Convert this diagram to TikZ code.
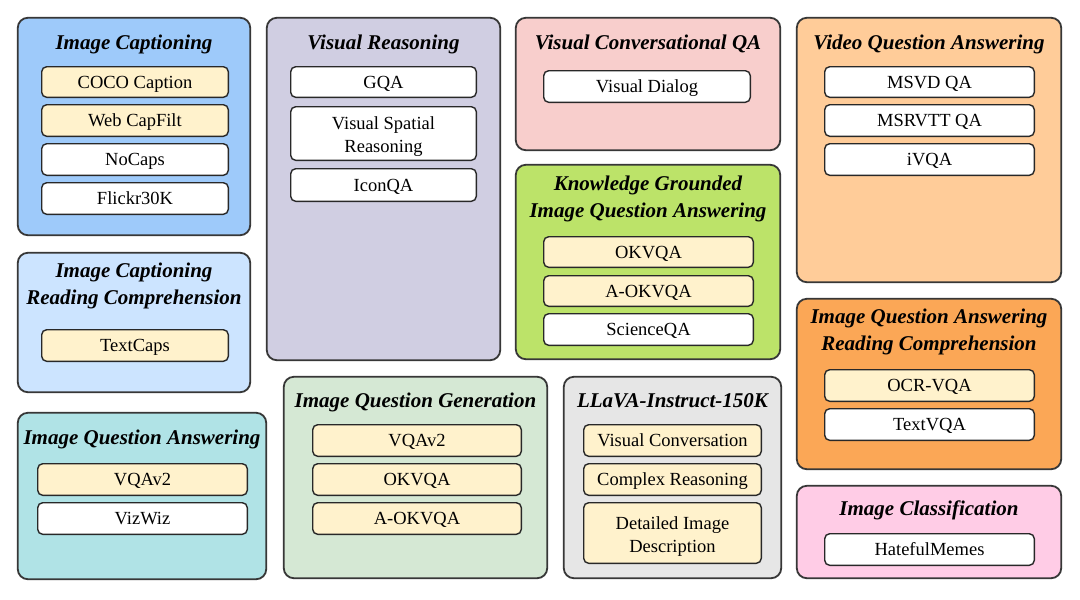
\documentclass[tikz,border=0pt]{standalone}
\usepackage{fontspec}
\setmainfont{Liberation Serif}
\definecolor{bord}{RGB}{55,55,55}
\definecolor{ibord}{RGB}{40,40,40}
\definecolor{cyel}{RGB}{255,242,204}
\definecolor{cIC}{RGB}{158,202,250}
\definecolor{cICRC}{RGB}{204,228,255}
\definecolor{cVR}{RGB}{208,206,226}
\definecolor{cVCQA}{RGB}{248,206,204}
\definecolor{cKG}{RGB}{188,227,105}
\definecolor{cVQA}{RGB}{255,204,153}
\definecolor{cIQARC}{RGB}{251,167,86}
\definecolor{cIQA}{RGB}{176,227,230}
\definecolor{cIQG}{RGB}{213,232,212}
\definecolor{cLL}{RGB}{230,230,230}
\definecolor{cICL}{RGB}{255,204,230}
\tikzset{
  outerbox/.style={draw=bord, line width=1.8pt, rounded corners=10pt, inner sep=0pt},
  ttl/.style={font=\fontsize{21}{27}\selectfont\bfseries\itshape, inner sep=0pt, align=center},
  itembase/.style={draw=ibord, line width=1.4pt, rounded corners=5pt, inner sep=0pt, font=\fontsize{18.5}{23}\selectfont},
  ybox/.style={itembase, fill=cyel, text height=16pt, text depth=3.8pt},
  wbox/.style={itembase, fill=white, text height=16pt, text depth=3.8pt},
  ytwo/.style={itembase, fill=cyel, align=center},
  wtwo/.style={itembase, fill=white, align=center}
}
\newcommand\outbox[6]{\node[outerbox, fill=#6, minimum width={#4-#2-1.6}, minimum height={#5-#3-1.6}] (#1) at ({(#2+#4)/2},{(#3+#5)/2}) {};}
\newcommand\itembox[7]{\node[#6, minimum width={#4-#2-1.4}, minimum height={#5-#3-1.4}] (#1) at ({(#2+#4)/2},{(#3+#5)/2}) {#7};}
\newcommand\tallstrut{\rule{0pt}{19pt}}
\begin{document}
\begin{tikzpicture}[x=1pt,y=-1pt]
\useasboundingbox[fill=white] (0,0) rectangle (1080,600);
% outer boxes
\outbox{IC}{17}{17}{251}{236}{cIC}
\outbox{VR}{266}{17}{501}{361}{cVR}
\outbox{VCQA}{515}{17}{781}{151}{cVCQA}
\outbox{VQA}{796}{17}{1062}{283}{cVQA}
\outbox{ICRC}{17}{252}{251}{393}{cICRC}
\outbox{KG}{515}{164}{781}{360}{cKG}
\outbox{IQARC}{796}{298}{1062}{470}{cIQARC}
\outbox{IQA}{17}{412}{267}{580}{cIQA}
\outbox{IQG}{283}{376}{548}{579}{cIQG}
\outbox{LL}{563}{376}{782}{579}{cLL}
\outbox{ICL}{796}{485}{1062}{579}{cICL}
% titles
\node[ttl, anchor=base] (tIC) at (134,49) {Image Captioning};
\node[ttl, anchor=base] (tVR) at (383.5,49) {Visual Reasoning};
\node[ttl, anchor=base] (tVCQA) at (648,49) {Visual Conversational QA};
\node[ttl, anchor=base] (tVQA) at (929,49) {Video Question Answering};
\node[ttl] (tICRC) at (134,286) {Image Captioning\\Reading Comprehension};
\node[ttl] (tKG) at (648,198.5) {Knowledge Grounded\\Image Question Answering};
\node[ttl] (tIQARC) at (929,332) {Image Question Answering\\Reading Comprehension};
\node[ttl, anchor=base] (tIQA) at (142,444) {Image Question Answering};
\node[ttl, anchor=base] (tIQG) at (415.5,407) {Image Question Generation};
\node[ttl, anchor=base] (tLL) at (672.5,407) {LLaVA-Instruct-150K};
\node[ttl, anchor=base] (tICL) at (929,515) {Image Classification};
% items
\itembox{coco}{41}{66}{229}{98}{ybox}{COCO Caption}
\itembox{web}{41}{104}{229}{137}{ybox}{Web CapFilt}
\itembox{nocaps}{41}{143}{229}{176}{wbox}{NoCaps}
\itembox{flickr}{41}{182}{229}{215}{wbox}{Flickr30K}
\itembox{gqa}{290}{66}{477}{98}{wbox}{GQA}
\itembox{vsr}{290}{106}{477}{161}{wtwo}{\tallstrut Visual Spatial\\Reasoning}
\itembox{iconqa}{290}{168}{477}{202}{wbox}{IconQA}
\itembox{vdial}{543}{70}{751}{103}{wbox}{Visual Dialog}
\itembox{msvd}{824}{66}{1035}{98}{wbox}{MSVD QA}
\itembox{msrvtt}{824}{104}{1035}{137}{wbox}{MSRVTT QA}
\itembox{ivqa}{824}{143}{1035}{176}{wbox}{iVQA}
\itembox{textcaps}{41}{329}{229}{362}{ybox}{TextCaps}
\itembox{okvqaA}{543}{236}{754}{268}{ybox}{OKVQA}
\itembox{aokvqaA}{543}{275}{754}{307}{ybox}{A-OKVQA}
\itembox{sciqa}{543}{313}{754}{346}{wbox}{ScienceQA}
\itembox{ocrvqa}{824}{369}{1035}{402}{ybox}{OCR-VQA}
\itembox{textvqa}{824}{408}{1035}{441}{wbox}{TextVQA}
\itembox{vqavA}{37}{463}{248}{496}{ybox}{VQAv2}
\itembox{vizwiz}{37}{502}{248}{535}{wbox}{VizWiz}
\itembox{vqavB}{312}{424}{522}{457}{ybox}{VQAv2}
\itembox{okvqaB}{312}{463}{522}{496}{ybox}{OKVQA}
\itembox{aokvqaB}{312}{502}{522}{535}{ybox}{A-OKVQA}
\itembox{vconv}{583}{424}{762}{457}{ybox}{Visual Conversation}
\itembox{complex}{583}{463}{762}{496}{ybox}{Complex Reasoning}
\itembox{detail}{583}{502}{762}{564}{ytwo}{\tallstrut Detailed Image\\Description}
\itembox{hateful}{824}{533}{1035}{566}{wbox}{HatefulMemes}
\end{tikzpicture}
\end{document}
